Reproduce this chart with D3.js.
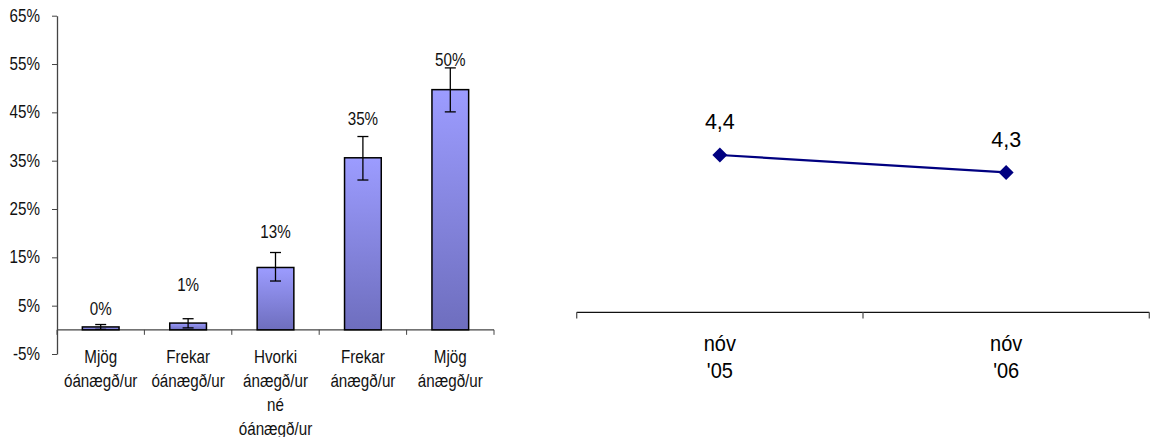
<!DOCTYPE html>
<html><head><meta charset="utf-8">
<script src="https://cdn.jsdelivr.net/npm/d3@7"></script>
<style>body{margin:0;background:#fff}svg{display:block}</style>
</head><body><svg id="c" width="1150" height="437"></svg>
<script>
// Left chart data
const categories = [["Mjög","óánægð/ur"],["Frekar","óánægð/ur"],["Hvorki","ánægð/ur","né","óánægð/ur"],["Frekar","ánægð/ur"],["Mjög","ánægð/ur"]];
const shares = [0.6, 1.4, 12.9, 35.6, 49.7];
const errLow = [0.1, 0.4, 10.1, 31.0, 45.1];
const errHigh = [1.1, 2.3, 16.0, 40.0, 54.2];
const shareLabels = ["0%","1%","13%","35%","50%"];
const labelAt = [4.4, 9.3, 20.3, 43.6, 55.8];
const yTicks = [-5, 5, 15, 25, 35, 45, 55, 65];
// Right chart data
const periods = [["nóv","'05"],["nóv","'06"]];
const scores = [4.4, 4.3];
const scoreLabels = ["4,4","4,3"];

const svg = d3.select("#c");
const FONT = "'Liberation Sans',Arial,sans-serif";

function stext(parent, px, py, str, anchor, size, sy, fill){
  const gg = parent.append("g").attr("transform",`translate(${px},${py}) scale(1,${sy})`);
  gg.append("text").attr("x",0).attr("y",0).attr("text-anchor",anchor||"middle")
    .attr("dominant-baseline","central").attr("font-family",FONT).attr("font-size",size)
    .attr("fill",fill||"#111").text(str);
  return gg;
}

const defs = svg.append("defs");
const g = defs.append("linearGradient").attr("id","barGrad").attr("x1",0).attr("y1",0).attr("x2",0).attr("y2",1);
g.append("stop").attr("offset","0%").attr("stop-color","#9c9cff");
g.append("stop").attr("offset","100%").attr("stop-color","#6e6ebe");

// ---- Left chart
const x = d3.scaleBand().domain(d3.range(categories.length)).range([57, 494]).paddingInner(0.58).paddingOuter(0.29);
const y = d3.scaleLinear().domain([-5, 65]).range([354, 15.7]);
const L = svg.append("g");

const yAx = L.append("g").attr("transform","translate(57,0)")
  .call(d3.axisLeft(y).tickValues(yTicks).tickFormat("").tickSize(5).tickSizeOuter(0));
yAx.select(".domain").attr("stroke","#444").attr("stroke-width",1.3);
yAx.selectAll(".tick line").attr("stroke","#444");
yTicks.forEach(t => stext(L, 40, y(t), t + "%", "end", 15.2, 1.2));

// x axis at zero
const xEdges = d3.range(categories.length + 1).map(i => 57 + i * (494 - 57) / categories.length);
L.append("line").attr("x1",57).attr("x2",494).attr("y1",y(0)).attr("y2",y(0)).attr("stroke","#444").attr("stroke-width",1.3);
L.selectAll(".xt").data(xEdges).join("line").attr("x1",d=>d).attr("x2",d=>d).attr("y1",y(0)).attr("y2",y(0)+5).attr("stroke","#444");

L.selectAll(".bar").data(shares).join("rect")
  .attr("x",(d,i)=>x(i)).attr("width",x.bandwidth())
  .attr("y",d=>y(d)).attr("height",d=>y(0)-y(d))
  .attr("fill","url(#barGrad)").attr("stroke","#000").attr("stroke-width",1.5);

const eb = L.selectAll(".eb").data(shares).join("g");
eb.append("line").attr("x1",(d,i)=>x(i)+x.bandwidth()/2).attr("x2",(d,i)=>x(i)+x.bandwidth()/2)
  .attr("y1",(d,i)=>y(errLow[i])).attr("y2",(d,i)=>y(errHigh[i])).attr("stroke","#000").attr("stroke-width",1.3);
[errLow, errHigh].forEach(arr => {
  eb.append("line").attr("x1",(d,i)=>x(i)+x.bandwidth()/2-5.5).attr("x2",(d,i)=>x(i)+x.bandwidth()/2+5.5)
    .attr("y1",(d,i)=>y(arr[i])).attr("y2",(d,i)=>y(arr[i])).attr("stroke","#000").attr("stroke-width",1.3);
});

shareLabels.forEach((s,i) => stext(L, x(i)+x.bandwidth()/2, y(labelAt[i]), s, "middle", 15.2, 1.2));
categories.forEach((lines,i) => lines.forEach((s,j) => stext(L, x(i)+x.bandwidth()/2, y(0)+27+j*24, s, "middle", 15.2, 1.2)));

// ---- Right chart
const xr = d3.scaleBand().domain(d3.range(periods.length)).range([576.7, 1149.3]);
const yr = d3.scaleLinear().domain([3.5, 5]).range([312.3, 50.1]);
const R = svg.append("g");
R.append("line").attr("x1",576.7).attr("x2",1149.3).attr("y1",312.3).attr("y2",312.3).attr("stroke","#111").attr("stroke-width",1.3);
R.selectAll(".rt").data([576.7, ...periods.map((d,i)=>xr(i)+xr.bandwidth())]).join("line")
  .attr("x1",d=>d).attr("x2",d=>d).attr("y1",312.3).attr("y2",318.5).attr("stroke","#555").attr("stroke-width",1.3);

const line = d3.line().x((d,i)=>xr(i)+xr.bandwidth()/2).y(d=>yr(d));
R.append("path").datum(scores).attr("d",line).attr("fill","none").attr("stroke","#000080").attr("stroke-width",2.2);
R.selectAll(".pt").data(scores).join("path")
  .attr("transform",(d,i)=>`translate(${xr(i)+xr.bandwidth()/2},${yr(d)})`)
  .attr("d","M0,-7.5L7.5,0L0,7.5L-7.5,0Z").attr("fill","#000080");
scoreLabels.forEach((s,i) => stext(R, xr(i)+xr.bandwidth()/2, yr(scores[i])-32.5, s, "middle", 21.5, 1.0, "#000"));
periods.forEach((lines,i) => lines.forEach((s,j) => stext(R, xr(i)+xr.bandwidth()/2, 343.5+j*26.5, s, "middle", 20, 1.08, "#000")));
</script></body></html>
